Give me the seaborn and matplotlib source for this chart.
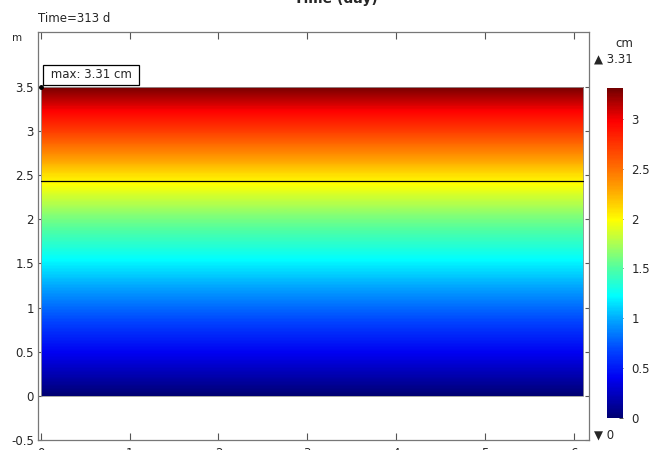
import numpy as np
import matplotlib
matplotlib.use("Agg")
import matplotlib.pyplot as plt
from matplotlib.colors import LinearSegmentedColormap
from matplotlib.patches import Rectangle
import seaborn as sns

sns.set_theme(style="white")
plt.rcParams['font.family'] = ['DejaVu Sans']

# displacement (cm) read at heights (m) of the domain
heights = [0.0, 0.5, 1.0, 1.5, 2.0, 2.5, 3.0, 3.5]
disp_cm = [0.0, 0.41, 0.80, 1.19, 1.60, 2.09, 2.72, 3.31]
domain_width = 6.1
line_height = 2.43
x_ticks = [0, 1, 2, 3, 4, 5, 6]
y_ticks = [-0.5, 0, 0.5, 1, 1.5, 2, 2.5, 3, 3.5]
y_labels = ['-0.5', '0', '0.5', '1', '1.5', '2', '2.5', '3', '3.5']
cbar_ticks = [0, 0.5, 1, 1.5, 2, 2.5, 3]
cbar_labels = ['0', '0.5', '1', '1.5', '2', '2.5', '3']
vmax = max(disp_cm)

# COMSOL-like rainbow
rainbow = LinearSegmentedColormap.from_list('comsol_rainbow', [
    (0.00, (0.00, 0.00, 0.45)),
    (0.12, (0.00, 0.00, 0.95)),
    (0.20, (0.00, 0.25, 1.00)),
    (0.29, (0.00, 0.62, 1.00)),
    (0.37, (0.00, 1.00, 1.00)),
    (0.45, (0.30, 1.00, 0.65)),
    (0.53, (0.68, 1.00, 0.32)),
    (0.60, (1.00, 1.00, 0.00)),
    (0.70, (1.00, 0.62, 0.00)),
    (0.80, (1.00, 0.30, 0.00)),
    (0.90, (1.00, 0.00, 0.00)),
    (1.00, (0.45, 0.00, 0.00)),
])

fig = plt.figure(figsize=(6.51, 4.5), dpi=100)
ax = fig.add_axes([0.0584, 0.0222, 0.8464, 0.9067])

# cell centres sit on the sample heights, then clip to the domain
half = (heights[1] - heights[0]) / 2
field = np.array(disp_cm)[:, None]
im = ax.imshow(field, origin='lower', aspect='auto', cmap=rainbow,
               extent=[0, domain_width, heights[0] - half, heights[-1] + half],
               vmin=0, vmax=vmax, interpolation='bilinear',
               interpolation_stage='data', zorder=1)
clip = Rectangle((0, heights[0]), domain_width, heights[-1] - heights[0],
                 transform=ax.transData, fc='none', ec='#999999', lw=0.6, zorder=2)
ax.add_patch(clip)
im.set_clip_path(clip)
sns.lineplot(x=[0, domain_width], y=[line_height, line_height], color='black',
             linewidth=0.9, ax=ax, zorder=3)
ax.plot([0], [heights[-1]], 'o', color='black', ms=2.5, zorder=4)

ax.set_xlim(-0.03, 6.17)
ax.set_ylim(-0.5, 4.12)
ax.set_xticks(x_ticks)
ax.set_yticks(y_ticks)
ax.set_yticklabels(y_labels)
ax.tick_params(axis='x', direction='in', length=5, width=0.8, color='#555555',
               top=True, bottom=True, labelsize=8.5, pad=5)
ax.tick_params(axis='y', direction='in', length=3, width=0.8, color='#555555',
               left=True, right=True, labelsize=8.5, pad=3)
for s in ax.spines.values():
    s.set_color('#777777')
    s.set_linewidth(0.9)

ax.annotate(' max: 3.31 cm ', xy=(0.07, 3.56), xycoords='data', fontsize=8.5,
            ha='left', va='bottom',
            bbox=dict(boxstyle='square,pad=0.3', fc='white', ec='black', lw=0.9))

cax = fig.add_axes([0.9324, 0.0711, 0.0246, 0.7333])
cb = fig.colorbar(im, cax=cax)
cb.set_ticks(cbar_ticks)
cb.set_ticklabels(cbar_labels)
cb.outline.set_visible(False)
cax.tick_params(labelsize=8.5, length=3, width=0.6, direction='in', color='#333333', pad=6)

fig.text(0.9585, 0.888, 'cm', fontsize=8.5, ha='center', va='bottom')
fig.text(0.912, 0.868, '\u25b2 3.31', fontsize=8.5, ha='left', va='center')
fig.text(0.912, 0.033, '\u25bc 0', fontsize=8.5, ha='left', va='center')
fig.text(0.058, 0.96, 'Time=313 d', fontsize=8.5, ha='left', va='center')
fig.text(0.018, 0.915, 'm', fontsize=7.5, ha='left', va='center')
fig.text(0.516, 0.993, 'Time (day)', fontsize=10, fontweight='bold', ha='center', va='baseline')

fig.savefig('out.png', dpi=100)
